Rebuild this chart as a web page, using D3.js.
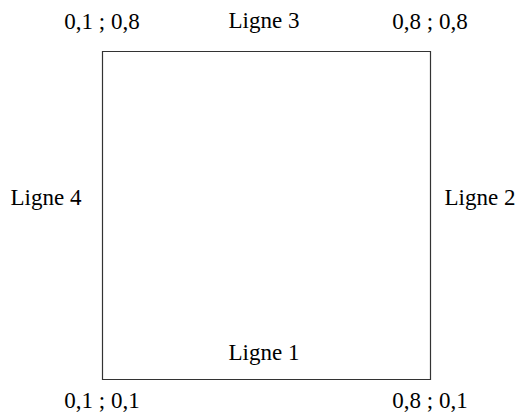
<!DOCTYPE html>
<html>
<head>
<meta charset="utf-8">
<script src="https://cdn.jsdelivr.net/npm/d3@7"></script>
<style>
    body { margin: 0; background: #fff; }
    text { font-family: "Liberation Serif", "Times New Roman", serif; font-size: 23px; fill: #000; }
</style>
</head>
<body>
<div id="chart"></div>
<script>
// corners of the square, in data units (bottom-left, bottom-right, top-right, top-left)
var cornerX = [0.1, 0.8, 0.8, 0.1];
var cornerY = [0.1, 0.1, 0.8, 0.8];
var cornerLabels = ["0,1 ; 0,1", "0,8 ; 0,1", "0,8 ; 0,8", "0,1 ; 0,8"];

// sides: bottom, right, top, left
var sideLabels = ["Ligne 1", "Ligne 2", "Ligne 3", "Ligne 4"];

var width = 519, height = 412;

var x = d3.scaleLinear().domain([0.1, 0.8]).range([102, 430]);
var y = d3.scaleLinear().domain([0.1, 0.8]).range([379, 51]);

var svg = d3.select("#chart").append("svg")
    .attr("width", width)
    .attr("height", height);

var corners = cornerX.map(function(d, i) { return { x: d, y: cornerY[i], label: cornerLabels[i] }; });

var line = d3.line()
    .x(function(d) { return x(d.x) + 0.5; })
    .y(function(d) { return y(d.y) + 0.5; })
    .curve(d3.curveLinearClosed);

svg.append("path")
    .datum(corners)
    .attr("d", line)
    .attr("fill", "none")
    .attr("stroke", "#333")
    .attr("stroke-width", 1.2);

// corner labels: above the top corners, below the bottom ones
svg.selectAll(".corner")
    .data(corners)
    .enter().append("text")
    .attr("class", "corner")
    .attr("text-anchor", "middle")
    .attr("x", function(d) { return x(d.x); })
    .attr("y", function(d) { return d.y > 0.5 ? y(d.y) - 22 : y(d.y) + 29; })
    .text(function(d) { return d.label; });

// side labels at the middle of each side
var sides = sideLabels.map(function(label, i) {
    var a = corners[i], b = corners[(i + 1) % 4];
    return { label: label, mx: (a.x + b.x) / 2, my: (a.y + b.y) / 2, side: i };
});

var midX = x(0.45), midY = y(0.45);

svg.selectAll(".side")
    .data(sides)
    .enter().append("text")
    .attr("class", "side")
    .attr("text-anchor", "middle")
    .attr("x", function(d) {
        if (d.side == 1) return x(d.mx) + 50;
        if (d.side == 3) return x(d.mx) - 56;
        return x(d.mx) - 2;
    })
    .attr("y", function(d) {
        if (d.side == 0) return y(d.my) - 19;
        if (d.side == 2) return y(d.my) - 23;
        return y(d.my) - 10;
    })
    .text(function(d) { return d.label; });
</script>
</body>
</html>
